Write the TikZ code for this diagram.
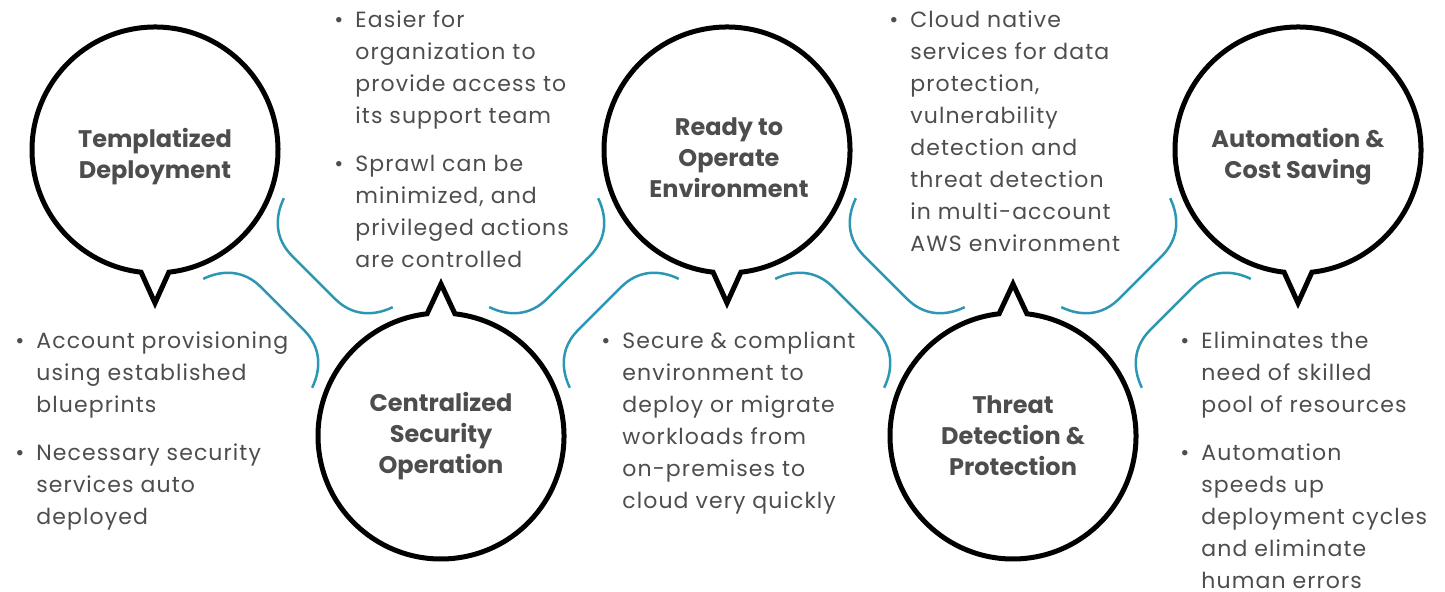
\documentclass[tikz,border=0pt]{standalone}
\usepackage{fontspec}
\setmainfont{Poppins}
\newfontfamily\bodyfont{Poppins}[LetterSpace=5]
\usetikzlibrary{calc}
\usetikzlibrary{positioning}
\definecolor{Teal}{RGB}{43,151,178}
\definecolor{Ink}{RGB}{77,77,77}
\tikzset{
  % round nodes that carry the headings
  hub/.style={circle,minimum size=246,inner sep=0pt,align=center,
    text=Ink,font=\fontsize{12}{15.5}\selectfont\bfseries},
  % outline of the speech bubble
  bubble/.style={draw=black,line width=2.5pt,line join=miter,miter limit=10},
  % bullet text beside the bubbles
  notes/.style={align=left,text=Ink,inner sep=0pt,anchor=north west,
    font=\bodyfont\fontsize{11}{16}\selectfont},
  % teal brackets between two neighbours
  wire/.style={Teal,line width=1.25pt},
  link/.pic={
    \draw[wire] (-77,57) .. controls (-70,37) and (-55,22) .. (-30,22)
      -- (30,22) .. controls (55,22) and (70,37) .. (77,57);
    \draw[wire] (-77,-57) .. controls (-70,-37) and (-55,-22) .. (-30,-22)
      -- (30,-22) .. controls (55,-22) and (70,-37) .. (77,-57);
  },
}
\newcommand{\itm}{\llap{\textbullet\hspace{6pt}}}

\begin{document}
\begin{tikzpicture}[x=0.5pt,y=0.5pt]
  \useasboundingbox (0,0) rectangle (1445,-592);

  % top row (heading sits a little below the circle centre) and bottom row
  \node[hub] (td)  at (155,-157)  {Templatized\\Deployment};
  \node[hub] (cso) at (441,-436)  {Centralized\\Security\\Operation};
  \node[hub] (roe) at (729,-158)  {Ready to\\Operate\\Environment};
  \node[hub] (tdp) at (1013,-436) {Threat\\Detection \&\\Protection};
  \node[hub] (acs) at (1298,-157) {Automation \&\\Cost Saving};

  \foreach \n in {td,acs}
    \draw[bubble] ($(\n)+(0,7)+(-83.5:123)$) arc[start angle=-83.5,end angle=263.5,radius=123]
      -- ($(\n)+(0,-146)$) -- cycle;
  \draw[bubble] ($(roe)+(-2,8)+(-83.5:123)$) arc[start angle=-83.5,end angle=263.5,radius=123]
    -- ($(roe)+(-2,-145)$) -- cycle;
  \foreach \n in {cso,tdp}
    \draw[bubble] ($(\n)+(96.5:123)$) arc[start angle=96.5,end angle=443.5,radius=123]
      -- ($(\n)+(0,152)$) -- cycle;

  \pic[rotate=-45] at (298,-293) {link};
  \pic[rotate=45]  at (584,-293) {link};
  \pic[rotate=-45] at (870,-293) {link};
  \pic[rotate=45]  at (1156,-293) {link};

  \node[notes] (td-n) at (36,-331) {\itm Account provisioning\\using established\\blueprints\\[8pt]
    \itm Necessary security\\services auto\\deployed};
  \node[notes] (cso-n) at (355,-10) {\itm Easier for\\organization to\\provide access to\\its support team\\[8pt]
    \itm Sprawl can be\\minimized, and\\privileged actions\\are controlled};
  \node[notes] (roe-n) at (622,-331) {\itm Secure \& compliant\\environment to\\deploy or migrate\\workloads from\\on-premises to\\cloud very quickly};
  \node[notes] (tdp-n) at (910,-10) {\itm Cloud native\\services for data\\protection,\\vulnerability\\detection and\\threat detection\\in multi-account\\AWS environment};
  \node[notes] (acs-n) at (1201,-331) {\itm Eliminates the\\need of skilled\\pool of resources\\[8pt]
    \itm Automation\\speeds up\\deployment cycles\\and eliminate\\human errors};
\end{tikzpicture}
\end{document}
